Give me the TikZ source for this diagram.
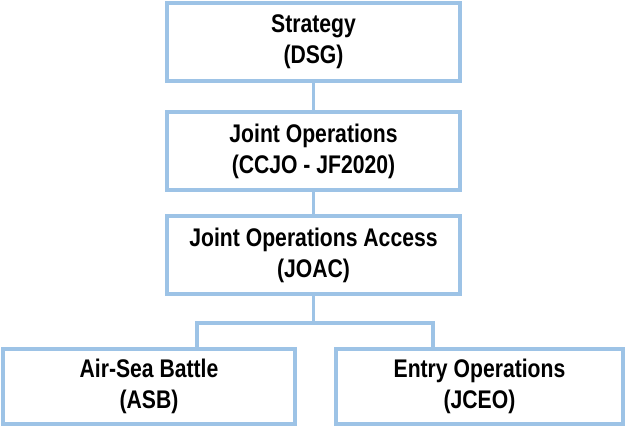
\documentclass[tikz,border=0pt]{standalone}
\usepackage{fontspec}
\setmainfont{Liberation Sans}[FakeStretch=0.83]
\definecolor{boxblue}{HTML}{9DC3E6}
\begin{document}
\begin{tikzpicture}[x=1pt,y=-1pt,
  orgbox/.style={draw=boxblue, line width=3.3pt, fill=white, inner sep=0pt, align=center,
    font=\bfseries\fontsize{25.5}{31}\selectfont},
  link/.style={draw=boxblue, line width=3.3pt}]
\useasboundingbox (0,0) rectangle (626,426);
\node[orgbox, minimum width=293pt, minimum height=78pt] (b1) at (313.5,42) {Strategy\\(DSG)};
\node[orgbox, minimum width=293pt, minimum height=78pt] (b2) at (313.5,151) {Joint Operations\\(CCJO - JF2020)};
\node[orgbox, minimum width=293pt, minimum height=78pt] (b3) at (313.5,255) {Joint Operations Access\\(JOAC)};
\node[orgbox, minimum width=292pt, minimum height=75pt] (b4) at (149,386.5) {Air-Sea Battle\\(ASB)};
\node[orgbox, minimum width=287pt, minimum height=75pt] (b5) at (479.5,386.5) {Entry Operations\\(JCEO)};
\coordinate (jl) at (197,323);
\coordinate (jr) at (433,323);
\draw[link] (b1.south) -- (b2.north);
\draw[link] (b2.south) -- (b3.north);
\draw[link] (b3.south) -- (b3.south |- jl);
\draw[link] (b4.north -| jl) -- (jl) -- (jr) -- (b5.north -| jr);
\end{tikzpicture}
\end{document}
